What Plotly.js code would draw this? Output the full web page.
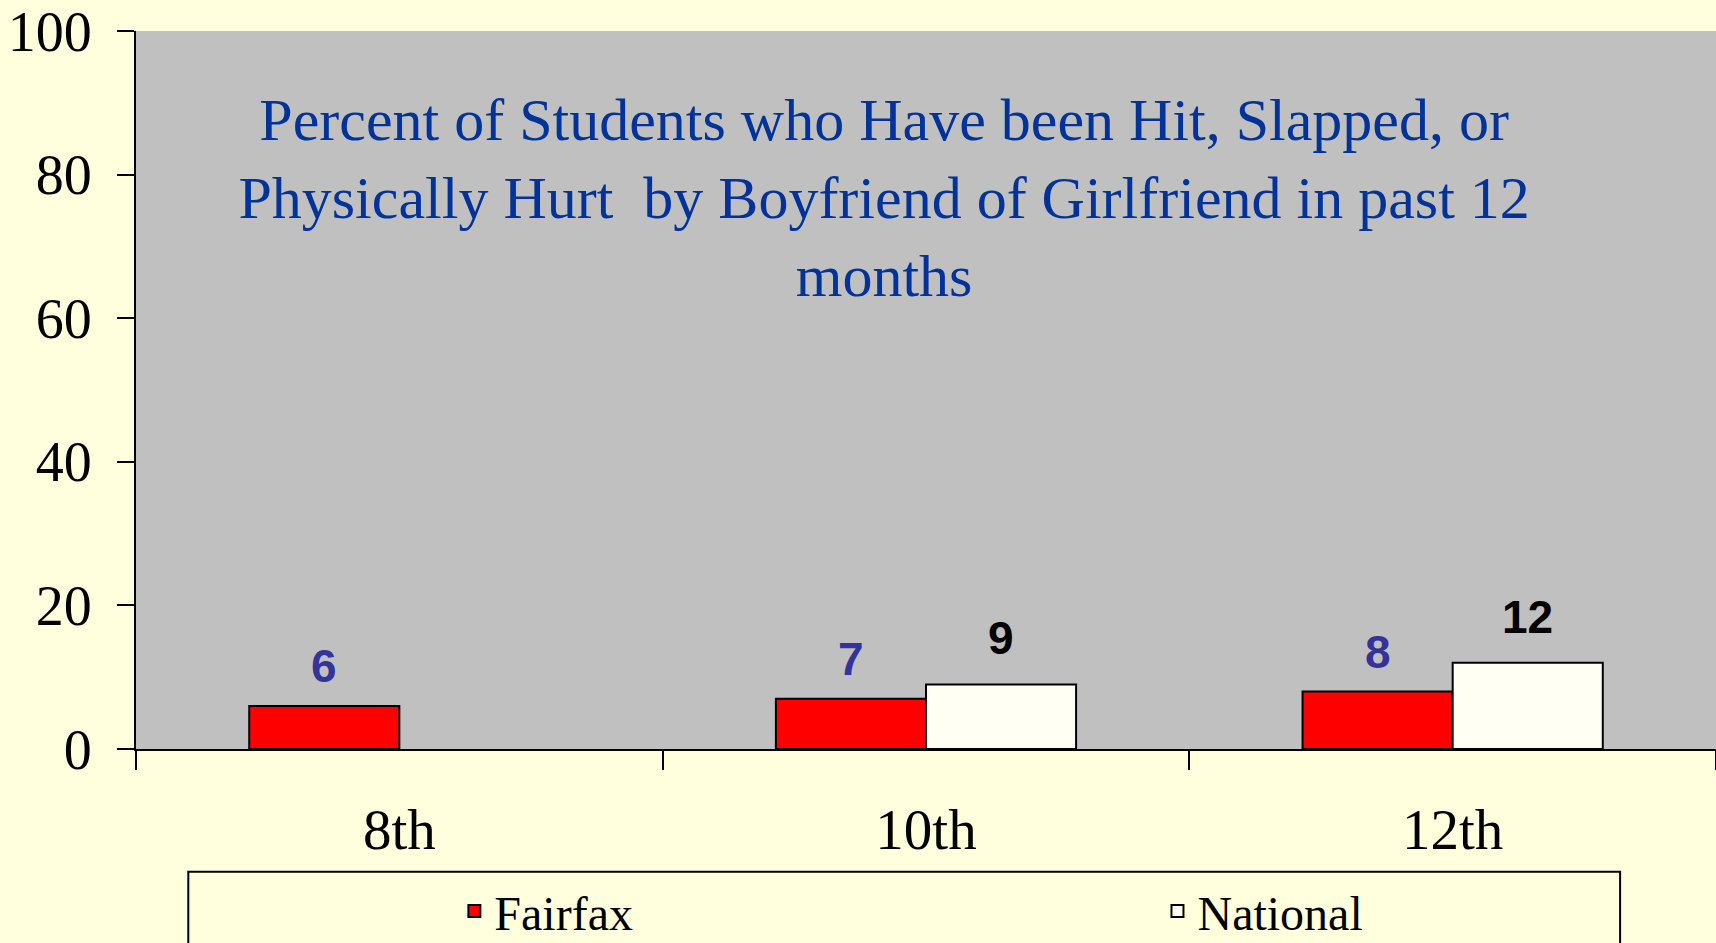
<!DOCTYPE html>
<html>
<head>
<meta charset="utf-8">
<script src="https://cdn.plot.ly/plotly-3.0.1.min.js"></script>
<style>
html,body{margin:0;padding:0;background:#FFFFDD;}
#chart{width:1716px;height:943px;}
</style>
</head>
<body>
<div id="chart"></div>
<script>
const grades = ['8th', '10th', '12th'];
const fairfax = [6, 7, 8];
const national = [null, 9, 12];
const seriesNames = ['Fairfax', 'National'];
const yTicks = [0, 20, 40, 60, 80, 100];
const titleLines = [
  'Percent of Students who Have been Hit, Slapped, or',
  'Physically Hurt  by Boyfriend of Girlfriend in past 12',
  'months'
];

const serif = 'Liberation Serif, Times New Roman, serif';

const traces = [
  {
    type: 'bar', name: seriesNames[0], x: grades, y: fairfax,
    marker: {color: '#FF0000', line: {color: '#000000', width: 2}},
    hoverinfo: 'x+y', legend: 'legend'
  },
  {
    type: 'bar', name: seriesNames[1], x: grades, y: national,
    marker: {color: '#FFFFF4', line: {color: '#000000', width: 2}},
    hoverinfo: 'x+y', legend: 'legend2'
  }
];

const annotations = [];
grades.forEach((g, i) => {
  if (fairfax[i] !== null) annotations.push({
    x: g, y: fairfax[i], xref: 'x', yref: 'y', text: String(fairfax[i]),
    showarrow: false, xshift: -75, yshift: 40, yanchor: 'middle',
    font: {family: 'Liberation Sans, Arial, sans-serif', size: 46, color: '#333399', weight: 'bold'}
  });
  if (national[i] !== null) annotations.push({
    x: g, y: national[i], xref: 'x', yref: 'y', text: String(national[i]),
    showarrow: false, xshift: 75, yshift: 46, yanchor: 'middle',
    font: {family: 'Liberation Sans, Arial, sans-serif', size: 46, color: '#000000', weight: 'bold'}
  });
});

const legendCommon = {
  orientation: 'h',
  xanchor: 'left', yanchor: 'middle',
  xref: 'paper', yref: 'paper',
  y: -0.226,
  bgcolor: 'rgba(0,0,0,0)', borderwidth: 0,
  font: {family: serif, size: 48, color: '#000000'}
};

const layout = {
  width: 1716, height: 943,
  paper_bgcolor: '#FFFFDD',
  plot_bgcolor: '#C0C0C0',
  margin: {l: 136, r: 0, t: 31, b: 194, pad: 0, autoexpand: false},
  barmode: 'group',
  bargap: 0.43,
  bargroupgap: 0,
  showlegend: true,
  title: {
    text: titleLines.join('<br>'),
    xref: 'paper', yref: 'paper', x: 0.4735, xanchor: 'center',
    y: 0.848, yanchor: 'middle',
    font: {family: serif, size: 60, color: '#003399'}
  },
  xaxis: {
    type: 'category',
    showline: true, linecolor: '#000000', linewidth: 2,
    ticks: 'outside', tickson: 'boundaries', ticklen: 19, tickwidth: 2, tickcolor: '#000000',
    ticklabelstandoff: 30,
    tickfont: {family: serif, size: 57, color: '#000000'},
    showgrid: false, zeroline: false, fixedrange: true
  },
  yaxis: {
    range: [0, 100], tickvals: yTicks, ticktext: yTicks.map(String),
    showline: true, linecolor: '#000000', linewidth: 2,
    ticks: 'outside', ticklen: 17, tickwidth: 2, tickcolor: '#000000',
    ticklabelstandoff: 14, ticklabeloverflow: 'allow',
    tickfont: {family: serif, size: 56, color: '#000000'},
    showgrid: false, zeroline: false, fixedrange: true
  },
  legend: Object.assign({}, legendCommon, {x: 0.2015}),
  legend2: Object.assign({}, legendCommon, {x: 0.6465}),
  shapes: [{
    type: 'rect', xref: 'paper', yref: 'paper',
    x0: 0.0331, x1: 0.9393, y0: -0.32, y1: -0.1711,
    line: {color: '#000000', width: 2}, fillcolor: 'rgba(0,0,0,0)', layer: 'above'
  }],
  annotations: annotations
};

Plotly.newPlot('chart', traces, layout, {displayModeBar: false});
</script>
</body>
</html>
